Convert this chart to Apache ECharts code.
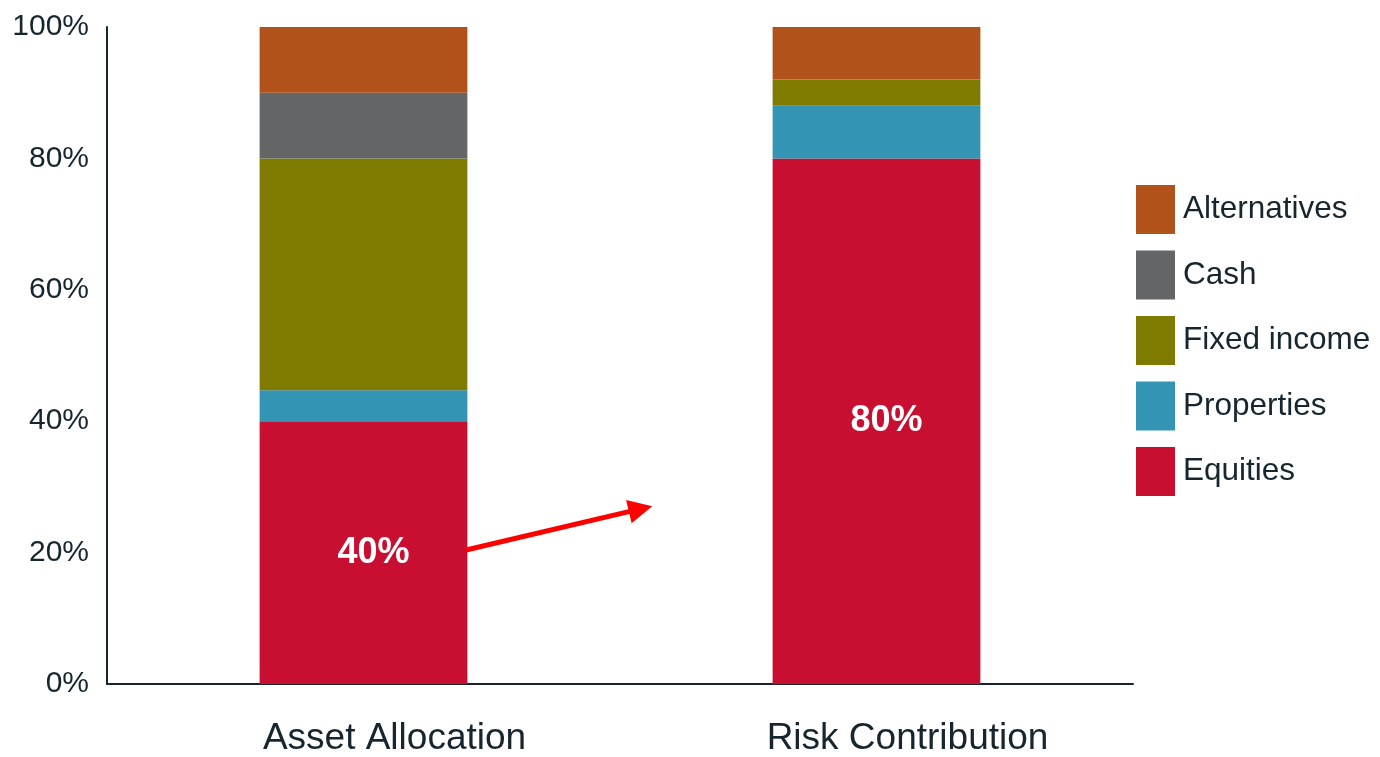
<!DOCTYPE html>
<html>
<head>
<meta charset="utf-8">
<script src="https://cdn.jsdelivr.net/npm/echarts@6/dist/echarts.min.js"></script>
<style>html,body{margin:0;padding:0;background:#fff;}#c{width:1380px;height:757px;}</style>
</head>
<body>
<div id="c"></div>
<script>
const categories = ['Asset Allocation', 'Risk Contribution'];
const equities = [40, 80];
const properties = [4.7, 8];
const fixedIncome = [35.3, 4];
const cash = [10, 0];
const alternatives = [10, 8];
const yTicks = [0, 20, 40, 60, 80, 100];
// arrow annotation in data coordinates: [categoryPosition, percent]
const arrowFrom = [0.2, 20.4];
const arrowTo = [0.54, 26.65];

const textColor = '#17252f';
const colors = {
  Equities: '#C80F32',
  Properties: '#3394B4',
  'Fixed income': '#7F7B00',
  Cash: '#646567',
  Alternatives: '#B1521B'
};

function barSeries(name, data, withLabel) {
  const s = {
    name: name,
    type: 'bar',
    stack: 'total',
    data: data,
    barWidth: '40.5%',
    itemStyle: { color: colors[name] },
    emphasis: { disabled: true }
  };
  if (withLabel) {
    s.label = {
      show: true,
      position: 'inside',
      offset: [10, 0],
      formatter: p => p.value + '%',
      color: '#fff',
      fontSize: 36,
      fontWeight: 'bold',
      fontFamily: 'Liberation Sans, Arial, sans-serif'
    };
  }
  return s;
}

const chart = echarts.init(document.getElementById('c'));
chart.setOption({
  animation: false,
  backgroundColor: '#fff',
  textStyle: { fontFamily: 'Liberation Sans, Arial, sans-serif', color: textColor },
  grid: { left: 107, right: 247, top: 27, bottom: 72, containLabel: false },
  legend: {
    orient: 'vertical',
    left: 1136,
    top: 185,
    padding: 0,
    itemWidth: 39,
    itemHeight: 49,
    itemGap: 16.5,
    icon: 'rect',
    data: ['Alternatives', 'Cash', 'Fixed income', 'Properties', 'Equities'],
    textStyle: { fontSize: 31.5, color: textColor, padding: [0, 0, 0, 3] },
    selectedMode: false
  },
  xAxis: [{
    type: 'category',
    data: categories,
    axisLine: { lineStyle: { color: textColor, width: 2 } },
    axisTick: { show: false },
    axisLabel: { fontSize: 37, color: textColor, margin: 36, padding: [0, 0, 0, 62] }
  }, {
    type: 'value',
    min: -0.5,
    max: 1.5,
    show: false
  }],
  yAxis: {
    type: 'value',
    min: 0,
    max: 100,
    interval: 20,
    axisLine: { show: true, onZero: false, lineStyle: { color: textColor, width: 2 } },
    axisTick: { show: false },
    splitLine: { show: false },
    axisLabel: {
      fontSize: 30,
      color: textColor,
      margin: 18,
      formatter: v => yTicks.includes(v) ? v + '%' : ''
    }
  },
  series: [
    barSeries('Equities', equities, true),
    barSeries('Properties', properties, false),
    barSeries('Fixed income', fixedIncome, false),
    barSeries('Cash', cash, false),
    barSeries('Alternatives', alternatives, false),
    {
      type: 'lines',
      coordinateSystem: 'cartesian2d',
      xAxisIndex: 1,
      yAxisIndex: 0,
      z: 10,
      symbol: ['none', 'triangle'],
      symbolSize: [22, 24],
      lineStyle: { color: '#FF0000', width: 5, opacity: 1, curveness: 0 },
      emphasis: { disabled: true },
      data: [{ coords: [arrowFrom, arrowTo] }]
    }
  ]
});
</script>
</body>
</html>
